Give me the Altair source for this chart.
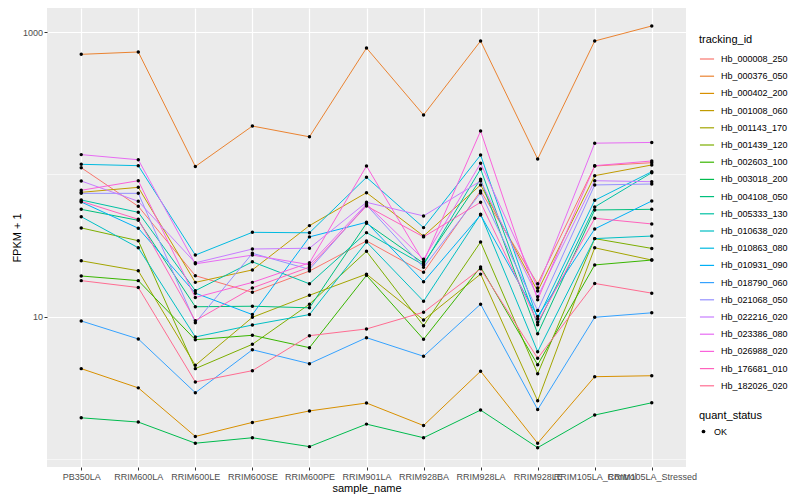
import altair as alt
import pandas as pd

samples = ["PB350LA", "RRIM600LA", "RRIM600LE", "RRIM600SE", "RRIM600PE", "RRIM901LA",
           "RRIM928BA", "RRIM928LA", "RRIM928LE", "RRIM105LA_Control", "RRIM105LA_Stressed"]

tracking_ids = ["Hb_000008_250", "Hb_000376_050", "Hb_000402_200", "Hb_001008_060",
                "Hb_001143_170", "Hb_001439_120", "Hb_002603_100", "Hb_003018_200",
                "Hb_004108_050", "Hb_005333_130", "Hb_010638_020", "Hb_010863_080",
                "Hb_010931_090", "Hb_018790_060", "Hb_021068_050", "Hb_022216_020",
                "Hb_023386_080", "Hb_026988_020", "Hb_176681_010", "Hb_182026_020"]

colors = ["#F8766D", "#EA8331", "#D89000", "#C09B00", "#A3A500", "#7CAE00", "#39B600",
          "#00BB4E", "#00BF7D", "#00C1A3", "#00BFC4", "#00BAE0", "#00B0F6", "#35A2FF",
          "#9590FF", "#C77CFF", "#E76BF3", "#FA62DB", "#FF62BC", "#FF6C91"]

hb_000008_250 = [111.7, 59.8, 19.5, 14.9, 21.0, 34.2, 20.6, 76.7, 17.1, 114.8, 121.1]
hb_000376_050 = [698, 725, 113.9, 219, 184, 773, 262, 866, 128.6, 866, 1104]
hb_000402_200 = [4.34, 3.18, 1.45, 1.82, 2.19, 2.49, 1.73, 4.16, 1.30, 3.81, 3.87]
hb_001008_060 = [75.0, 81.3, 17.5, 21.4, 43.8, 74.6, 37.0, 84.5, 15.2, 98.2, 116.7]
hb_001143_170 = [24.8, 21.1, 4.58, 9.95, 14.2, 20.0, 9.53, 20.0, 2.58, 30.6, 25.1]
hb_001439_120 = [42.2, 34.3, 4.34, 6.43, 12.3, 28.9, 8.69, 33.6, 4.00, 35.5, 30.3]
hb_002603_100 = [19.4, 18.0, 6.93, 7.44, 6.09, 19.6, 6.97, 22.4, 4.62, 23.2, 25.1]
hb_003018_200 = [1.96, 1.83, 1.30, 1.42, 1.23, 1.77, 1.42, 2.22, 1.21, 2.05, 2.50]
hb_004108_050 = [57.0, 47.7, 11.8, 11.9, 11.6, 45.5, 23.8, 92.6, 7.63, 56.4, 57.0]
hb_005333_130 = [66.3, 54.3, 15.3, 24.4, 17.1, 39.1, 23.2, 109.4, 8.83, 59.2, 103.0]
hb_010638_020 = [50.6, 30.6, 7.24, 8.79, 10.4, 33.6, 12.9, 52.6, 5.71, 35.5, 37.0]
hb_010863_080 = [118, 115.4, 27.2, 39.3, 39.0, 95.6, 42.4, 137, 9.68, 65.9, 104.7]
hb_010931_090 = [64.2, 42.0, 14.7, 10.4, 36.5, 46.2, 17.7, 52.0, 10.1, 41.5, 65.2]
hb_018790_060 = [9.38, 7.01, 2.94, 5.89, 4.70, 7.16, 5.30, 12.3, 2.24, 9.95, 10.7]
hb_021068_050 = [73.8, 73.8, 9.12, 28.0, 21.6, 61.1, 22.3, 74.2, 11.1, 84.5, 85.8]
hb_022216_020 = [90.1, 64.9, 24.0, 30.0, 30.4, 63.8, 51.2, 90.1, 13.9, 90.5, 89.1]
hb_023386_080 = [138, 127, 23.6, 27.2, 23.3, 62.1, 25.4, 120, 16.0, 166, 168]
hb_026988_020 = [77.5, 90.5, 13.7, 17.5, 24.0, 114.8, 24.4, 202, 13.2, 115.4, 124.5]
hb_176681_010 = [64.9, 48.5, 9.42, 16.0, 22.4, 60.1, 36.5, 63.8, 9.18, 49.3, 45.0]
hb_182026_020 = [18.0, 16.1, 3.50, 4.20, 7.39, 8.24, 10.8, 21.8, 5.13, 17.2, 14.7]

series = [hb_000008_250, hb_000376_050, hb_000402_200, hb_001008_060, hb_001143_170,
          hb_001439_120, hb_002603_100, hb_003018_200, hb_004108_050, hb_005333_130,
          hb_010638_020, hb_010863_080, hb_010931_090, hb_018790_060, hb_021068_050,
          hb_022216_020, hb_023386_080, hb_026988_020, hb_176681_010, hb_182026_020]

minor_breaks = [1, 100]

rows = []
for tid, vals in zip(tracking_ids, series):
    for s, v in zip(samples, vals):
        rows.append({"tracking_id": tid, "sample_name": s, "fpkm": v, "quant_status": "OK"})
df = pd.DataFrame(rows)

FONT = "Liberation Sans"

x_enc = alt.X("sample_name:N", sort=samples, title="sample_name",
              scale=alt.Scale(type="point", padding=0.6),
              axis=alt.Axis(labelAngle=0, labelOverlap=False, labelFontSize=9,
                            labelColor="#4D4D4D", tickColor="#333333", tickSize=3,
                            domain=False, grid=True, gridColor="white", gridWidth=1.2,
                            titleFontSize=11, titleFontWeight="normal", titleColor="black",
                            labelPadding=2, titlePadding=1))
y_scale = alt.Scale(type="log", domain=[0.885, 1476], nice=False)
y_enc = alt.Y("fpkm:Q", title="FPKM + 1", scale=y_scale,
              axis=alt.Axis(values=[10, 1000], format="d", labelFontSize=9,
                            labelColor="#4D4D4D", tickColor="#333333", tickSize=3,
                            domain=False, grid=True, gridColor="white", gridWidth=1.2,
                            titleFontSize=11, titleFontWeight="normal", titleColor="black",
                            labelPadding=1.5, titlePadding=0))

minor = alt.Chart(pd.DataFrame({"b": minor_breaks})).mark_rule(
    color="white", strokeWidth=0.6).encode(y=alt.Y("b:Q", scale=y_scale))

lines = alt.Chart(df).mark_line(strokeWidth=1).encode(
    x=x_enc, y=y_enc,
    color=alt.Color("tracking_id:N", scale=alt.Scale(domain=tracking_ids, range=colors),
                    legend=alt.Legend(title="tracking_id", orient="none", legendX=652,
                                      legendY=26, symbolType="stroke", symbolSize=200,
                                      symbolStrokeWidth=1.2, labelFontSize=9,
                                      titleFontSize=11, titleFontWeight="normal",
                                      rowPadding=4.2, labelOffset=6, titlePadding=6)),
)

points = alt.Chart(df).mark_point(filled=True, color="black", size=12, opacity=1).encode(
    x=alt.X("sample_name:N", sort=samples),
    y="fpkm:Q",
    shape=alt.Shape("quant_status:N", scale=alt.Scale(range=["circle"]),
                    legend=alt.Legend(title="quant_status", orient="none", legendX=652,
                                      legendY=402, symbolSize=14, symbolFillColor="black",
                                      labelFontSize=9, titleFontSize=11,
                                      titleFontWeight="normal", labelOffset=6, titlePadding=6)),
)

chart = alt.layer(minor, lines, points).properties(
    width=639, height=459,
    autosize=alt.AutoSizeParams(type="none"),
    padding={"left": 39, "top": 0, "right": 106, "bottom": 30},
).configure(font=FONT).configure_view(fill="#EBEBEB", strokeWidth=0).configure_legend(
    labelColor="black", titleColor="black")

chart.save("out.html", embed_options={"renderer": "svg", "actions": False})
